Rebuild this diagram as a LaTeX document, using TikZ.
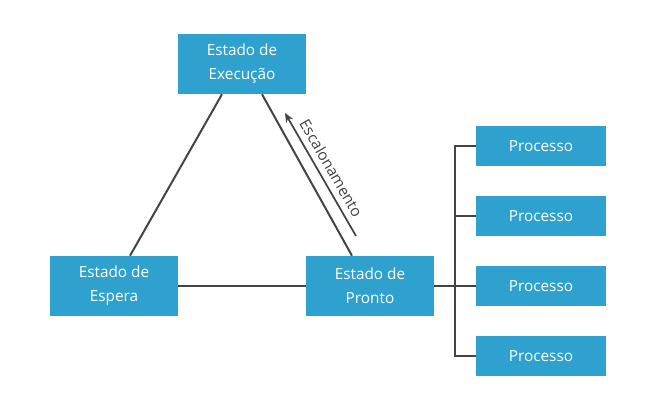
\documentclass[tikz,border=0pt]{standalone}
\usepackage{fontspec}
\setmainfont{Open Sans}
\usepackage{xcolor}
\usetikzlibrary{positioning,arrows.meta}

\definecolor{caixa}{HTML}{2FA1CE}
\definecolor{linha}{HTML}{444444}

\tikzset{
  estado/.style={fill=caixa, text=white, minimum width=96pt, minimum height=45pt,
    align=center, inner sep=0pt, font=\fontsize{11.5}{18}\selectfont},
  processo/.style={fill=caixa, text=white, minimum width=97.5pt, minimum height=30pt,
    inner sep=0pt, font=\fontsize{11.5}{14}\selectfont},
  ligacao/.style={draw=linha, line width=1.5pt}
}

\begin{document}
\begin{tikzpicture}[x=0.75pt,y=-0.75pt]
  \useasboundingbox (0,0) rectangle (656,410);

  % Estados
  \node[estado] (execucao) at (242,64) {Estado de\\Execução};
  \node[estado] (espera) at (114,286) {Estado de\\Espera};
  \node[estado] (pronto) at (370,286) {Estado de\\Pronto};

  % Processos
  \foreach \i/\y in {1/146,2/216,3/286,4/356} {
    \node[processo] (proc\i) at (541,\y) {Processo};
  }

  % Triangulo
  \draw[ligacao] ([xshift=-15pt]execucao.south) -- ([xshift=12pt]espera.north);
  \draw[ligacao] ([xshift=15pt]execucao.south) -- ([xshift=-13.5pt]pronto.north);
  \draw[ligacao] (espera) -- (pronto);

  % Escalonamento
  \coordinate (ponta) at (285,113);
  \coordinate (cauda) at (356,236);
  \draw[ligacao, line width=1.3pt, {Stealth[length=7pt,width=6pt]}-] (ponta) --
    node[sloped, above=1pt, text=linha, font=\fontsize{11.5}{14}\selectfont] {Escalonamento} (cauda);

  % Barramento
  \coordinate (barra) at (455,286);
  \draw[ligacao] (pronto.east) -- (barra);
  \draw[ligacao] (proc1.west) -| (proc4.west -| barra) -- (proc4.west);
  \foreach \i in {2,3} {
    \draw[ligacao] (proc\i.west) -- (proc\i.west -| barra);
  }
\end{tikzpicture}
\end{document}
